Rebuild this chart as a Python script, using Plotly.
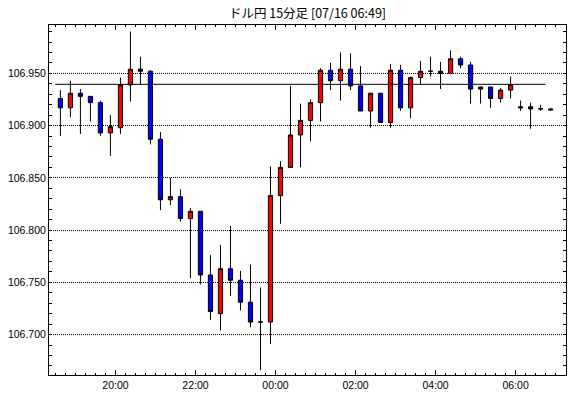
import plotly.graph_objects as go
import pandas as pd

# 15-minute candles, start times (JST), 2020-07-15 18:30 .. 2020-07-16 06:45
start_time = "2020-07-15 18:30"
n_candles = 50
opens = [106.926, 106.917, 106.931, 106.928, 106.922, 106.893, 106.898, 106.939, 106.954, 106.952,
         106.887, 106.829, 106.832, 106.811, 106.818, 106.757, 106.720, 106.763, 106.752, 106.731,
         106.712, 106.712, 106.833, 106.860, 106.891, 106.905, 106.922, 106.953, 106.943, 106.954,
         106.938, 106.914, 106.931, 106.903, 106.953, 106.917, 106.946, 106.952, 106.952, 106.950,
         106.964, 106.958, 106.935, 106.937, 106.926, 106.934, 106.918, 106.918, 106.916, 106.916]
highs = [106.934, 106.943, 106.935, 106.928, 106.924, 106.910, 106.946, 106.990, 106.966, 106.953,
         106.894, 106.850, 106.839, 106.821, 106.818, 106.776, 106.786, 106.804, 106.761, 106.767,
         106.745, 106.861, 106.866, 106.938, 106.921, 106.925, 106.955, 106.960, 106.970, 106.969,
         106.957, 106.931, 106.931, 106.959, 106.958, 106.947, 106.962, 106.966, 106.961, 106.972,
         106.966, 106.961, 106.937, 106.937, 106.936, 106.947, 106.924, 106.922, 106.920, 106.917]
lows = [106.890, 106.908, 106.892, 106.904, 106.890, 106.871, 106.892, 106.923, 106.939, 106.882,
        106.819, 106.824, 106.808, 106.754, 106.748, 106.714, 106.704, 106.737, 106.723, 106.707,
        106.666, 106.691, 106.806, 106.860, 106.860, 106.885, 106.904, 106.934, 106.924, 106.934,
        106.914, 106.898, 106.903, 106.898, 106.914, 106.907, 106.940, 106.947, 106.935, 106.950,
        106.955, 106.921, 106.921, 106.917, 106.922, 106.926, 106.914, 106.897, 106.914, 106.914]
closes = [106.917, 106.931, 106.928, 106.922, 106.893, 106.899, 106.939, 106.954, 106.952, 106.887,
          106.829, 106.832, 106.811, 106.818, 106.757, 106.722, 106.763, 106.752, 106.731, 106.712,
          106.712, 106.833, 106.860, 106.891, 106.905, 106.922, 106.953, 106.943, 106.954, 106.938,
          106.914, 106.931, 106.903, 106.953, 106.917, 106.946, 106.952, 106.952, 106.950, 106.964,
          106.958, 106.935, 106.937, 106.926, 106.934, 106.939, 106.917, 106.916, 106.916, 106.915]
ref_level = 106.9395

title_text = "ドル円 15分足 [07/16 06:49]"
x_range = ["2020-07-15 18:20:24", "2020-07-16 07:15:36"]
y_range = [106.6613, 106.9963]

times = pd.date_range(start_time, periods=n_candles, freq="15min")

fig = go.Figure()
fig.add_trace(go.Candlestick(
    x=times, open=opens, high=highs, low=lows, close=closes,
    xperiod=900000, xperiodalignment="middle",
    increasing=dict(fillcolor="#ff0000", line=dict(color="black", width=1)),
    decreasing=dict(fillcolor="#0000ff", line=dict(color="black", width=1)),
    whiskerwidth=0, showlegend=False, hoverinfo="skip",
))
fig.add_trace(go.Scatter(
    x=[times[0], times[-1]], y=[ref_level, ref_level], mode="lines",
    line=dict(color="black", width=1), showlegend=False, hoverinfo="skip",
))

fig.update_layout(
    width=570, height=398,
    margin=dict(l=49, r=4, t=25, b=23, autoexpand=False),
    paper_bgcolor="white", plot_bgcolor="white",
    boxgap=0.4,
    font=dict(family="Liberation Sans", size=10.5, color="black"),
    title=dict(text=title_text, x=0.5, xanchor="center", y=1 - 14 / 398, yanchor="middle",
               xref="paper", yref="container",
               font=dict(family="Noto Sans CJK JP", size=12.5, color="black")),
)
fig.update_xaxes(
    type="date", range=x_range, rangeslider=dict(visible=False), automargin=False,
    showline=True, linecolor="black", linewidth=1, mirror="allticks",
    ticks="inside", ticklen=5, tickcolor="black", tickwidth=1,
    tick0="2020-07-15 20:00", dtick=7200000, tickformat="%H:%M",
    showgrid=False, zeroline=False,
    minor=dict(ticks="inside", ticklen=2, dtick=900000, tickcolor="black", showgrid=False),
)
fig.update_yaxes(
    range=y_range, automargin=False, showline=True, linecolor="black", linewidth=1,
    mirror="allticks",
    ticks="inside", ticklen=3, tickcolor="black", tickwidth=1,
    tick0=106.7, dtick=0.05, tickformat=".3f",
    showgrid=True, gridcolor="black", gridwidth=1, griddash="1px,1px", zeroline=False,
    minor=dict(ticks="inside", ticklen=3, dtick=0.01, tickcolor="black", showgrid=False),
)

fig.write_html("out.html", config={"displayModeBar": False},
               post_script="document.body.style.margin='0';")
